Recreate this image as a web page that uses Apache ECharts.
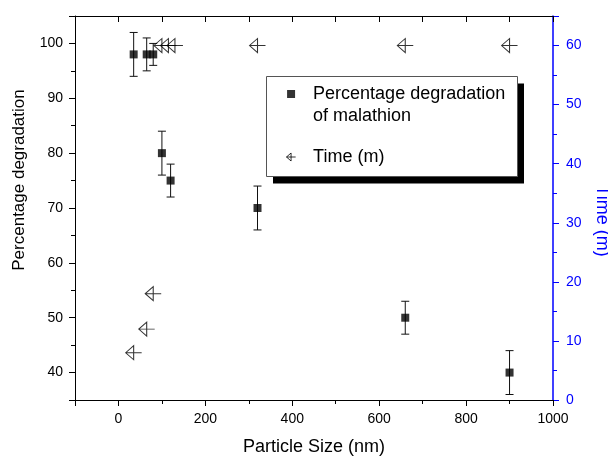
<!DOCTYPE html>
<html><head><meta charset="utf-8">
<script src="https://cdn.jsdelivr.net/npm/echarts@6/dist/echarts.min.js"></script>
<style>html,body{margin:0;padding:0;background:#fff}#c{width:608px;height:456px}</style>
</head><body><div id="c"></div>
<script>
// ---- data ----
const particleSize = [35, 65, 80, 100, 120, 320, 660, 900];
const degradation = [98, 98, 98, 80, 75, 70, 50, 40];
const degradationErr = [4, 3, 2, 4, 3, 4, 3, 4];
const timeSize = [35, 65, 80, 100, 115, 130, 320, 660, 900];
const timeMin = [8, 12, 18, 60, 60, 60, 60, 60, 60];
const xTickLabels = [0, 200, 400, 600, 800, 1000];
const yLeftTickLabels = [40, 50, 60, 70, 80, 90, 100];
const yRightTickLabels = [0, 10, 20, 30, 40, 50, 60];
const seriesNames = ['Percentage degradation\nof malathion', 'Time (m)'];

const FONT = 'Liberation Sans, Arial, sans-serif';
const BLUE = '#0000ff';
const triPath = 'path://M0,7L8,0L8,14ZM0,7L16,7';

const chart = echarts.init(document.getElementById('c'), null, {renderer: 'canvas'});

const errData = particleSize.map((x, i) => [x, degradation[i] - degradationErr[i], degradation[i] + degradationErr[i]]);
const degData = particleSize.map((x, i) => [x, degradation[i]]);
const timeData = timeSize.map((x, i) => [x, timeMin[i]]);

const blackLine = {show: true, onZero: false, lineStyle: {color: '#000', width: 1}};
const noLine = {show: false, onZero: false};

chart.setOption({
  animation: false,
  textStyle: {fontFamily: FONT},
  grid: {left: 75, right: 55, top: 16, bottom: 56, containLabel: false, outerBoundsMode: 'none'},
  graphic: [
    {type: 'rect', z: 0, shape: {x: 273, y: 83.5, width: 251, height: 100}, style: {fill: '#000'}},
    {type: 'rect', z: 1, shape: {x: 266.5, y: 76.5, width: 251, height: 100}, style: {fill: '#fff', stroke: '#555', lineWidth: 1}}
  ],
  xAxis: [
    { // major bottom
      type: 'value', position: 'bottom', min: -100, max: 1000,
      splitNumber: 5, minInterval: 200, maxInterval: 200,
      axisLine: blackLine,
      axisTick: {show: true, inside: false, length: 6, lineStyle: {color: '#000'}},
      axisLabel: {show: true, margin: 12, fontSize: 14, color: '#000', fontFamily: FONT,
        formatter: v => xTickLabels.includes(v) ? String(v) : ''},
      splitLine: {show: false},
      name: 'Particle Size (nm)', nameLocation: 'middle', nameGap: 38,
      nameTextStyle: {fontSize: 18, color: '#000', fontFamily: FONT}
    },
    { // minor bottom
      type: 'value', position: 'bottom', min: -100, max: 1000, interval: 100,
      axisLine: noLine,
      axisTick: {show: true, inside: false, length: 4, lineStyle: {color: '#000'}},
      axisLabel: {show: false}, splitLine: {show: false}
    },
    { // top
      type: 'value', position: 'top', min: -100, max: 1000, interval: 100,
      axisLine: blackLine,
      axisTick: {show: true, inside: true, length: 6, lineStyle: {color: '#000'}},
      axisLabel: {show: false}, splitLine: {show: false}
    }
  ],
  yAxis: [
    { // left major
      type: 'value', position: 'left', min: 35, max: 105,
      splitNumber: 7, minInterval: 10, maxInterval: 10,
      axisLine: blackLine,
      axisTick: {show: true, inside: false, length: 6, lineStyle: {color: '#000'}},
      axisLabel: {show: true, margin: 12, fontSize: 14, color: '#000', fontFamily: FONT,
        formatter: v => yLeftTickLabels.includes(v) ? String(v) : ''},
      splitLine: {show: false},
      name: 'Percentage degradation', nameLocation: 'middle', nameGap: 47, nameRotate: 90,
      nameTextStyle: {fontSize: 17, color: '#000', fontFamily: FONT, padding: [0, 0, 0, 56]}
    },
    { // left minor
      type: 'value', position: 'left', min: 35, max: 105, interval: 5,
      axisLine: noLine,
      axisTick: {show: true, inside: false, length: 4, lineStyle: {color: '#000'}},
      axisLabel: {show: false}, splitLine: {show: false}
    },
    { // right major
      type: 'value', position: 'right', min: 0, max: 65, interval: 10,
      axisLine: {show: true, onZero: false, lineStyle: {color: BLUE, width: 1.5}},
      axisTick: {show: true, inside: false, length: 6, lineStyle: {color: BLUE}},
      axisLabel: {show: true, margin: 13, fontSize: 14, color: BLUE, fontFamily: FONT,
        formatter: v => yRightTickLabels.includes(v) ? String(v) : ''},
      splitLine: {show: false},
      name: 'Time (m)', nameLocation: 'middle', nameGap: 30, nameRotate: -90,
      nameTextStyle: {fontSize: 18, color: BLUE, fontFamily: FONT, padding: [0, 0, 0, 26]}
    },
    { // right minor
      type: 'value', position: 'right', min: 0, max: 65, interval: 5,
      axisLine: noLine,
      axisTick: {show: true, inside: false, length: 4, lineStyle: {color: BLUE}},
      axisLabel: {show: false}, splitLine: {show: false}
    }
  ],
  legend: {
    orient: 'vertical', align: 'left', left: 286, top: 61, z: 5,
    padding: 0,
    itemWidth: 34, itemHeight: 8, itemGap: 19,
    selectedMode: false,
    formatter: function (name) {
      const lines = name.split('\n').map(s => '{t|' + s + '}');
      if (lines.length > 1) lines.unshift('{s| }');
      return lines.join('\n');
    },
    textStyle: {
      fontSize: 18, lineHeight: 22, color: '#000', fontFamily: FONT,
      rich: {
        t: {fontSize: 18, lineHeight: 22, color: '#000', fontFamily: FONT},
        s: {fontSize: 18, lineHeight: 22}
      }
    },
    data: [
      {name: seriesNames[0], icon: 'path://M0,0h8v8h-8z', itemStyle: {color: '#000'}},
      {name: seriesNames[1], icon: triPath, itemStyle: {color: 'rgba(0,0,0,0)', borderColor: '#000', borderWidth: 1}}
    ]
  },
  series: [
    {
      type: 'custom', name: 'err', xAxisIndex: 0, yAxisIndex: 0,
      data: errData, encode: {x: 0, y: [1, 2]}, z: 2,
      renderItem: function (params, api) {
        const x = api.value(0), lo = api.value(1), hi = api.value(2);
        const pLo = api.coord([x, lo]), pHi = api.coord([x, hi]);
        const w = 4;
        const st = {stroke: '#111', lineWidth: 1};
        return {type: 'group', children: [
          {type: 'line', shape: {x1: pLo[0], y1: pLo[1], x2: pHi[0], y2: pHi[1]}, style: st},
          {type: 'line', shape: {x1: pLo[0] - w, y1: pLo[1], x2: pLo[0] + w, y2: pLo[1]}, style: st},
          {type: 'line', shape: {x1: pHi[0] - w, y1: pHi[1], x2: pHi[0] + w, y2: pHi[1]}, style: st}
        ]};
      }
    },
    {
      type: 'scatter', name: seriesNames[0], xAxisIndex: 0, yAxisIndex: 0,
      data: degData, symbol: 'rect', symbolSize: 8, z: 3,
      itemStyle: {color: '#000'}
    },
    {
      type: 'scatter', name: seriesNames[1], xAxisIndex: 0, yAxisIndex: 2,
      data: timeData, symbol: triPath, symbolSize: [16, 14], z: 3,
      itemStyle: {color: 'rgba(0,0,0,0)', borderColor: '#000', borderWidth: 1}
    }
  ]
});
</script>
</body></html>
